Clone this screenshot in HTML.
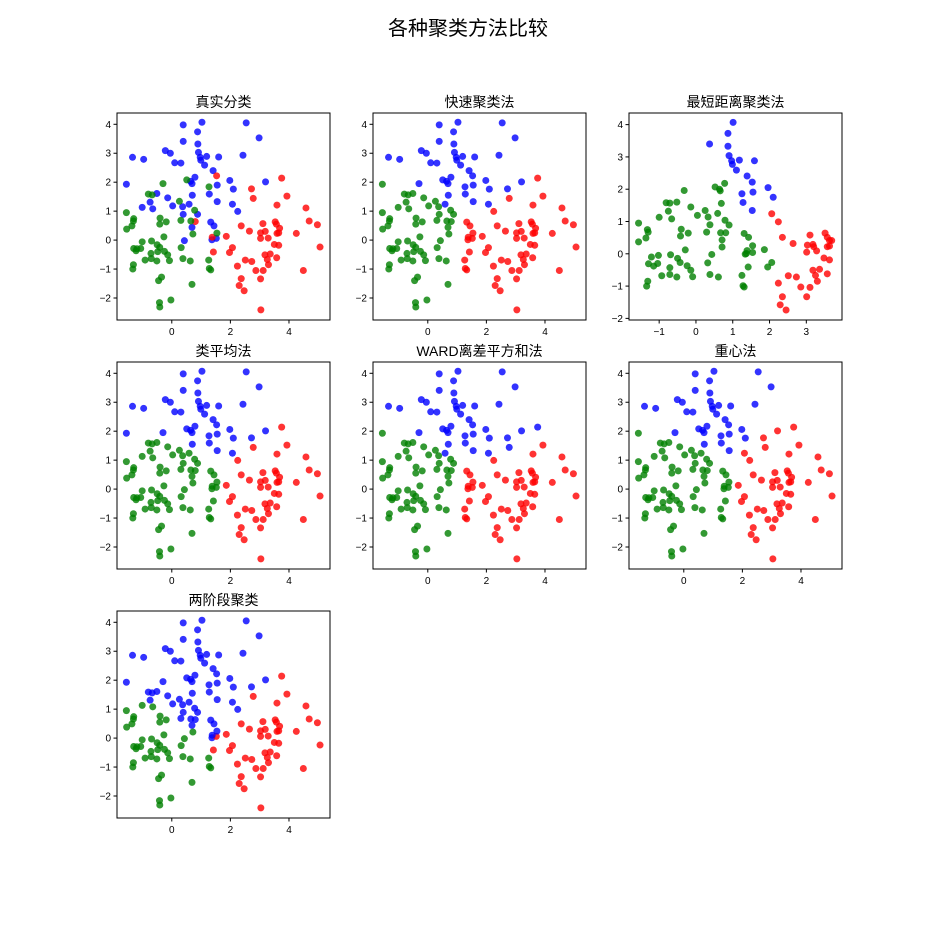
<!DOCTYPE html>
<html><head><meta charset="utf-8"><style>
body{margin:0;background:#fff;}
svg text{font-family:"Liberation Sans","Noto Sans CJK SC",sans-serif;}
</style></head><body>
<svg id="fig" width="936" height="936" xmlns="http://www.w3.org/2000/svg">
<rect width="936" height="936" fill="#fff"/>
<text x="468" y="35" text-anchor="middle" font-size="20" fill="#000">各种聚类方法比较</text>
</svg>
<script>
// full data set: x values, y values (panel 1 ground truth labels)
const blueX=[0.39,1.03,2.54,0.88,2.98,0.39,0.89,-0.22,-0.05,0.91,1.19,0.97,1.60,2.43,-1.34,-0.96,0.99,0.10,0.31,1.12,1.41,0.79,0.64,0.69,1.98,3.20,-1.55,1.55,2.10,-0.51,1.28,0.70,-0.74,-0.14,0.59,1.55,-1.01,-0.65,0.03,0.37,2.07,0.39,0.88,2.25,1.33,1.44,0.69,0.43,1.37,1.52];
const blueY=[3.98,4.07,4.05,3.74,3.53,3.41,3.32,3.09,3.00,3.03,2.89,2.86,2.87,2.93,2.86,2.79,2.76,2.67,2.66,2.59,2.40,2.17,2.03,1.95,2.06,2.01,1.93,1.90,1.76,1.61,1.59,1.55,1.31,1.46,1.24,1.33,1.13,1.08,1.18,1.15,1.24,0.89,0.89,0.99,0.62,0.49,0.44,-0.02,0.01,0.06];
const redX=[1.53,3.75,2.72,2.78,3.93,3.59,4.58,0.80,3.11,3.53,4.69,4.97,2.37,2.65,3.03,3.19,3.57,3.68,3.59,3.65,4.25,1.38,1.86,3.03,3.29,3.50,3.65,2.07,1.42,1.97,3.18,3.36,3.58,3.26,2.51,2.73,3.30,2.24,2.87,3.12,4.49,2.37,3.03,2.30,2.47,3.04,5.06];
const redY=[2.22,2.14,1.77,1.44,1.52,1.21,1.11,0.64,0.57,0.63,0.66,0.53,0.49,0.31,0.25,0.30,0.55,0.41,0.23,0.25,0.23,0.10,0.13,0.06,0.07,-0.15,-0.18,-0.26,-0.41,-0.43,-0.51,-0.48,-0.61,-0.67,-0.69,-0.74,-0.85,-0.90,-1.05,-1.05,-1.05,-1.33,-1.34,-1.57,-1.75,-2.41,-0.24];
const greenX=[-0.30,0.51,1.27,-0.80,-0.67,0.26,0.78,-1.55,-1.30,-1.31,-0.40,-0.19,-0.41,0.31,0.65,-1.36,-1.54,1.54,0.72,-0.27,-1.01,-0.69,-0.50,-1.30,-1.19,-1.06,-1.22,-0.41,-0.48,-0.25,-0.71,-0.14,0.32,-0.91,-0.70,-0.51,-0.08,0.38,0.63,1.26,-1.31,-1.33,1.28,1.33,-0.35,-0.45,0.69,-0.42,-0.41,-0.03];
const greenY=[1.95,2.08,1.84,1.59,1.56,1.34,1.03,0.95,0.74,0.66,0.76,0.63,0.55,0.68,0.66,0.49,0.38,0.24,0.21,0.11,-0.06,-0.03,-0.16,-0.29,-0.30,-0.29,-0.37,-0.25,-0.40,-0.39,-0.46,-0.51,-0.26,-0.69,-0.64,-0.72,-0.71,-0.64,-0.72,-0.69,-0.85,-1.00,-0.98,-1.03,-1.28,-1.40,-1.53,-2.16,-2.31,-2.07];
// single-linkage panel (different subset)
const sBlueX=[1.01,0.37,0.87,0.87,0.90,0.97,0.99,1.18,1.59,1.10,1.39,1.53,1.25,1.55,1.28,1.96,2.10,1.53];
const sBlueY=[4.07,3.40,3.73,3.33,3.04,2.88,2.77,2.90,2.88,2.59,2.41,2.22,1.86,1.91,1.59,2.05,1.75,1.34];
const sRedX=[2.06,2.24,2.35,2.64,3.10,3.03,3.18,3.20,3.28,3.01,3.51,3.57,3.63,3.69,3.57,3.63,3.48,3.63,3.36,3.18,3.25,3.30,3.57,2.51,2.73,2.85,3.10,3.01,2.24,2.35,2.29,2.45];
const sRedY=[1.24,0.99,0.51,0.32,0.58,0.27,0.29,0.22,0.09,0.05,0.64,0.51,0.41,0.41,0.22,0.24,-0.13,-0.19,-0.48,-0.51,-0.67,-0.85,-0.62,-0.68,-0.72,-1.03,-1.04,-1.33,-0.91,-1.33,-1.58,-1.74];
const sGreenX=[-1.56,-1.56,-1.36,-1.32,-1.30,-1.00,-0.81,-0.71,-0.52,-0.75,-0.66,-0.32,-0.14,0.04,0.25,0.33,0.29,0.38,0.52,0.64,0.66,0.78,0.69,0.59,0.79,0.90,0.67,0.71,0.71,0.81,-0.40,-0.42,-0.21,-0.29,-1.02,-0.69,-0.50,-0.43,-0.24,-0.14,-0.09,-0.52,-0.71,-0.71,-0.93,-1.21,-1.29,-1.15,-1.04,-1.31,-1.34,0.32,0.43,0.38,0.61,1.31,1.43,1.39,1.37,1.34,1.54,1.54,1.86,2.06,1.95,1.42,1.25,1.28,1.31];
const sGreenY=[0.95,0.37,0.49,0.75,0.67,1.13,1.58,1.57,1.60,1.32,1.08,1.96,1.45,1.19,1.34,1.14,0.67,0.90,2.07,2.00,1.95,2.18,1.56,1.25,1.04,0.89,0.65,0.43,0.21,0.65,0.76,0.55,0.64,0.12,-0.05,-0.03,-0.14,-0.27,-0.37,-0.51,-0.71,-0.72,-0.64,-0.43,-0.68,-0.10,-0.31,-0.38,-0.30,-0.85,-1.00,-0.28,-0.02,-0.64,-0.72,0.63,0.51,0.10,0.01,-0.01,0.25,0.04,0.13,-0.27,-0.41,-0.41,-0.67,-0.99,-1.03];
const titles=["真实分类","快速聚类法","最短距离聚类法","类平均法","WARD离差平方和法","重心法","两阶段聚类"];
const xTicks=[0,2,4], yTicks=[-2,-1,0,1,2,3,4];
const sxTicks=[-1,0,1,2,3], syTicks=[-2,-1,0,1,2,3,4];
// cluster centres used for the other methods (blue, green, red)
const centres=[null,[[1.2,2.6],[-0.5,0.2],[2.9,-0.2]],null,[[1,2.6],[0.3,0],[3.3,-0.3]],[[1.3,2.5],[-0.4,0.1],[2.8,-0.4]],[[0.9,2.7],[0.2,0.1],[3.4,0.0]],[[0.9,1.8],[-0.6,-0.6],[3.3,-0.4]]];
const COLORS=["#0000ff","#008000","#ff0000"];
const NS="http://www.w3.org/2000/svg";
const svg=document.getElementById('fig');
function mk(t,a,p){const e=document.createElementNS(NS,t);for(const k in a)e.setAttribute(k,a[k]);(p||svg).appendChild(e);return e;}
const cols=[117,373,629], rows=[113,362,611], W=213, H=207;
const allX=blueX.concat(redX,greenX), allY=blueY.concat(redY,greenY);
const trueLab=blueX.map(()=>0).concat(redX.map(()=>2),greenX.map(()=>1));
for(let p=0;p<7;p++){
  const L=cols[p%3], T=rows[Math.floor(p/3)];
  const single=p===2;
  const xl=single?[-1.82,3.97]:[-1.87,5.4], yl=single?[-2.05,4.36]:[-2.76,4.39];
  const sx=v=>L+(v-xl[0])/(xl[1]-xl[0])*W, sy=v=>T+H-(v-yl[0])/(yl[1]-yl[0])*H;
  const g=mk('g',{});
  
  
  const tt=mk('text',{x:L+W/2,y:T-6,'text-anchor':'middle','font-size':14},g);tt.textContent=titles[p];
  
  
  let X,Y,Lab;
  if(single){X=sBlueX.concat(sGreenX,sRedX);Y=sBlueY.concat(sGreenY,sRedY);Lab=sBlueX.map(()=>0).concat(sGreenX.map(()=>1),sRedX.map(()=>2));}
  else{X=allX;Y=allY;
    if(p===0)Lab=trueLab;
    else Lab=X.map((x,i)=>{let b=0,bd=1e9;centres[p].forEach((c,k)=>{const d=(x-c[0])**2+(Y[i]-c[1])**2;if(d<bd){bd=d;b=k;}});return b;});}
  X.forEach((x,i)=>{const c=mk('circle',{cx:sx(x),cy:sy(Y[i]),r:3.5,fill:COLORS[Lab[i]],'fill-opacity':0.8},g);
    
    });
  const fr=mk('rect',{x:L,y:T,width:W,height:H,fill:'none',stroke:'#000','stroke-width':1},g);
  
  
  (single?sxTicks:xTicks).forEach(v=>{const x=sx(v);mk('line',{x1:x,x2:x,y1:T+H,y2:T+H+3.5,stroke:'#000'},g);
    const t=mk('text',{x:x,y:T+H+15,'text-anchor':'middle','font-size':10},g);t.textContent=v<0?'−'+(-v):v;
    
    });
  (single?syTicks:yTicks).forEach(v=>{const y=sy(v);mk('line',{x1:L-3.5,x2:L,y1:y,y2:y,stroke:'#000'},g);
    const t=mk('text',{x:L-6,y:y+3.5,'text-anchor':'end','font-size':10},g);t.textContent=v<0?'−'+(-v):v;
    
    });
}
</script>
</body></html>
